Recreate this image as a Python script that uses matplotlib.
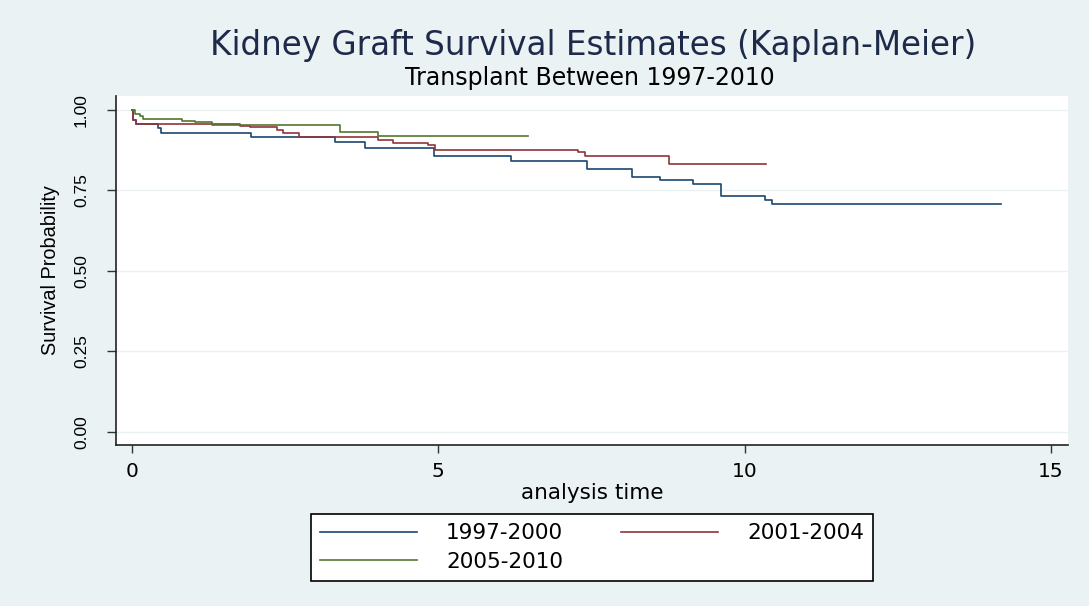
import matplotlib
matplotlib.use("Agg")
import matplotlib.pyplot as plt

plt.rcParams['font.family'] = ['DejaVu Sans']

# Kaplan-Meier step estimates (time in years, survival)
t_9700 = [0, 0.01, 0.07, 0.43, 0.47, 1.94, 3.31, 3.80, 4.93, 6.19, 7.42, 8.16,
          8.62, 9.16, 9.61, 10.33, 10.45, 14.18]
s_9700 = [1.0, 0.969, 0.955, 0.943, 0.929, 0.916, 0.901, 0.882, 0.856, 0.842,
          0.817, 0.792, 0.783, 0.770, 0.733, 0.719, 0.708, 0.708]

t_0104 = [0, 0.02, 0.07, 1.76, 1.93, 2.36, 2.47, 2.73, 4.02, 4.26, 4.83, 4.95,
          7.28, 7.39, 8.76, 10.35]
s_0104 = [1.0, 0.97, 0.955, 0.951, 0.946, 0.938, 0.928, 0.915, 0.907, 0.899,
          0.891, 0.877, 0.869, 0.857, 0.831, 0.831]

t_0510 = [0, 0.05, 0.13, 0.18, 0.81, 1.03, 1.30, 3.39, 4.02, 6.46]
s_0510 = [1.0, 0.988, 0.981, 0.972, 0.967, 0.962, 0.954, 0.933, 0.920, 0.920]

labels = ["1997-2000", "2001-2004", "2005-2010"]
colors = ["#1a476f", "#90353b", "#55752f"]

x_ticks = [0, 5, 10, 15]
y_ticks = [0.0, 0.25, 0.5, 0.75, 1.0]

bg = "#eaf2f3"
fig = plt.figure(figsize=(10.89, 6.06), dpi=100, facecolor=bg)
ax = fig.add_axes([0.1065, 0.2657, 0.8742, 0.5759])
ax.set_facecolor("white")

lines = []
for t, s, lab, c in zip([t_9700, t_0104, t_0510], [s_9700, s_0104, s_0510], labels, colors):
    ln, = ax.step(t, s, where="post", color=c, lw=1.2, label=lab)
    lines.append(ln)

ax.set_xlim(-0.261, 15.277)
ax.set_ylim(-0.0404, 1.0435)
ax.set_xticks(x_ticks)
ax.set_yticks(y_ticks)
ax.set_xticklabels([str(v) for v in x_ticks], fontsize=14.5)
ax.set_yticklabels(["%.2f" % v for v in y_ticks], rotation=90, va="center",
                   family="Liberation Sans", fontsize=12.5)
ax.tick_params(axis="x", length=6, width=1, color="#333333", pad=6)
ax.tick_params(axis="y", length=6.5, width=1, color="#333333", pad=13)
ax.grid(axis="y", color="#eaf2f3", lw=1)
ax.set_axisbelow(True)
for side in ["top", "right"]:
    ax.spines[side].set_visible(False)
for side in ["left", "bottom"]:
    ax.spines[side].set_color("#222222")
    ax.spines[side].set_linewidth(1.2)

ax.set_xlabel("analysis time", fontsize=15.5, labelpad=2)
ax.set_ylabel("Survival Probability", fontsize=14.3, family="Liberation Sans", labelpad=10)

fig.text(0.545, 0.925, "Kidney Graft Survival Estimates (Kaplan-Meier)",
         ha="center", va="center", fontsize=23.5, color="#1e2a4a")
fig.text(0.542, 0.872, "Transplant Between 1997-2010",
         ha="center", va="center", fontsize=17, color="black")

# row-wise order: 1997-2000, 2001-2004 / 2005-2010
order = [0, 2, 1]
leg = fig.legend([lines[i] for i in order], [labels[i] for i in order],
                 loc="center", bbox_to_anchor=(592 / 1089, 1 - 547.5 / 606),
                 ncol=2, fontsize=15.5, frameon=True, fancybox=False,
                 handlelength=4.5, handletextpad=1.35, columnspacing=2.7,
                 borderpad=0.42, labelspacing=0.4, borderaxespad=0)
leg.get_frame().set_edgecolor("black")
leg.get_frame().set_facecolor("white")
leg.get_frame().set_alpha(1)
leg.get_frame().set_linewidth(1.2)

fig.savefig("out.png", dpi=100, facecolor=bg)
